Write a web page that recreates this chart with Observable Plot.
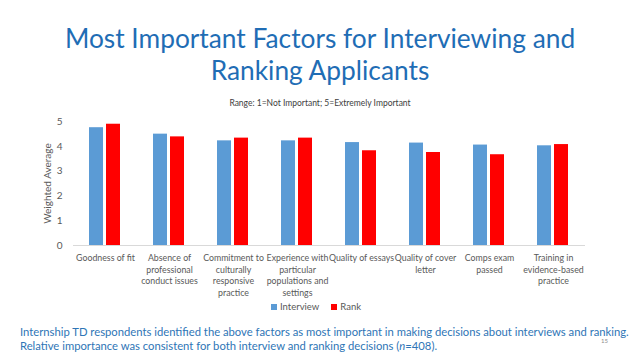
<!DOCTYPE html>
<html>
<head>
<meta charset="utf-8">
<script src="https://cdn.jsdelivr.net/npm/d3@7"></script>
<script src="https://cdn.jsdelivr.net/npm/@observablehq/plot@0.6"></script>
<style>
  html, body { margin: 0; padding: 0; background: #fff; }
  #page { position: relative; width: 640px; height: 360px; overflow: hidden; font-family: Lato, "Open Sans", sans-serif; }
  #title { position: absolute; left: 0; top: 22px; width: 640px; text-align: center; color: #1F6DB5; font-size: 26.3px; line-height: 32px; font-weight: 400; }
  #subtitle { position: absolute; left: 0; top: 98px; width: 640px; text-align: center; color: #404040; font-size: 8.5px; }
  #chart { position: absolute; left: 0; top: 0; }
  #legend { position: absolute; top: 301px; left: 0; width: 632px; text-align: center; font-size: 9.5px; color: #595959; }
  #legend span.sw { display: inline-block; width: 6px; height: 6px; margin-right: 3px; vertical-align: 0px; }
  #legend span.item { margin: 0 6px; }
  #caption { position: absolute; left: 20px; top: 325px; width: 620px; color: #2E75B6; font-size: 11.25px; line-height: 14px; white-space: nowrap; }
  #pagenum { position: absolute; left: 601px; top: 337px; font-size: 6px; color: #8c8c8c; }
</style>
</head>
<body>
<div id="page">
  <div id="title">Most Important Factors for Interviewing and<br>Ranking Applicants</div>
  <div id="subtitle">Range: 1=Not Important; 5=Extremely Important</div>
  <div id="chart"></div>
  <div id="legend"></div>
  <div id="caption">Internship TD respondents identified the above factors as most important in making decisions about interviews and ranking.<br>Relative importance was consistent for both interview and ranking decisions (<i>n</i>=408).</div>
  <div id="pagenum">15</div>
</div>
<script>
const factors = [
  "Goodness of fit",
  "Absence of professional conduct issues",
  "Commitment to culturally responsive practice",
  "Experience with particular populations and settings",
  "Quality of essays",
  "Quality of cover letter",
  "Comps exam passed",
  "Training in evidence-based practice"
];
const factorLabels = [
  "Goodness of fit",
  "Absence of\nprofessional\nconduct issues",
  "Commitment to\nculturally\nresponsive\npractice",
  "Experience with\nparticular\npopulations and\nsettings",
  "Quality of essays",
  "Quality of cover\nletter",
  "Comps exam\npassed",
  "Training in\nevidence-based\npractice"
];
const seriesNames = ["Interview", "Rank"];
const seriesColors = ["#5B9BD5", "#FF0000"];
const interviewValues = [4.75, 4.49, 4.22, 4.22, 4.15, 4.13, 4.05, 4.02];
const rankValues = [4.89, 4.38, 4.33, 4.33, 3.82, 3.75, 3.66, 4.07];
const yTicks = [0, 1, 2, 3, 4, 5];

const data = [];
factors.forEach((f, i) => {
  data.push({factor: f, series: "Interview", value: interviewValues[i]});
  data.push({factor: f, series: "Rank", value: rankValues[i]});
});
const labelOf = new Map(factors.map((f, i) => [f, factorLabels[i]]));

const chart = Plot.plot({
  width: 640,
  height: 300,
  marginLeft: 71,
  marginRight: 53,
  marginTop: 121,
  marginBottom: 55,
  style: {fontFamily: "Lato, 'Open Sans', sans-serif", background: "transparent"},
  fx: {domain: factors, padding: 0, axis: null},
  x: {domain: seriesNames, paddingInner: 0.167, paddingOuter: 0.875, axis: null},
  y: {domain: [0, 5], axis: null},
  color: {domain: seriesNames, range: seriesColors},
  marks: [
    Plot.ruleY([0], {stroke: "#d9d9d9", strokeWidth: 1}),
    Plot.barY(data, {fx: "factor", x: "series", y: "value", fill: "series"}),
    Plot.axisY({ticks: yTicks, tickFormat: d3.format("d"), tickSize: 0, tickPadding: 11, fontSize: 10, fill: "#595959",
      label: "Weighted Average", labelAnchor: "center", labelOffset: 30, labelArrow: "none"}),
    Plot.text(factors, {fx: d => d, text: d => labelOf.get(d), frameAnchor: "bottom", dy: 7,
      lineAnchor: "top", lineHeight: 1.33, fontSize: 8.8, fill: "#595959"})
  ]
});
document.getElementById("chart").appendChild(chart);

const legend = document.getElementById("legend");
seriesNames.forEach((s, i) => {
  const item = document.createElement("span");
  item.className = "item";
  item.innerHTML = `<span class="sw" style="background:${seriesColors[i]}"></span>${s}`;
  legend.appendChild(item);
});
</script>
</body>
</html>
